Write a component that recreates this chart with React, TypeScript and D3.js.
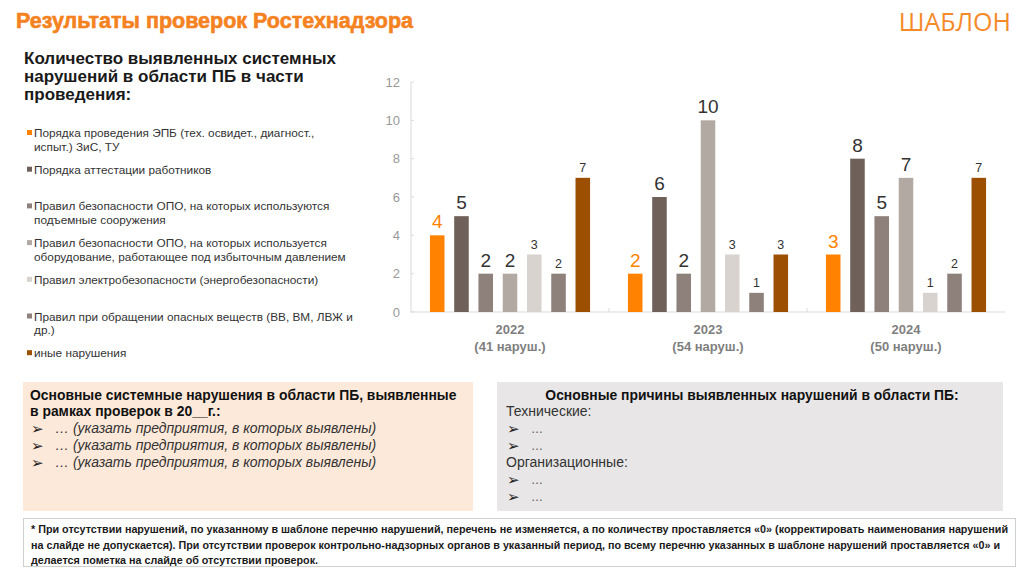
import React from "react";
import * as d3 from "d3";

const years = ["2022", "2023", "2024"];
const yearNotes = ["(41 наруш.)", "(54 наруш.)", "(50 наруш.)"];
const seriesNames = [
  ["Порядка проведения ЭПБ (тех. освидет., диагност.,", "испыт.) ЗиС, ТУ"],
  ["Порядка аттестации работников"],
  ["Правил безопасности ОПО, на которых используются", "подъемные сооружения"],
  ["Правил безопасности ОПО, на которых используется", "оборудование, работающее под избыточным давлением"],
  ["Правил электробезопасности (энергобезопасности)"],
  ["Правил при обращении опасных веществ (ВВ, ВМ, ЛВЖ и", "др.)"],
  ["иные нарушения"],
];
const values2022 = [4, 5, 2, 2, 3, 2, 7];
const values2023 = [2, 6, 2, 10, 3, 1, 3];
const values2024 = [3, 8, 5, 7, 1, 2, 7];
const valuesByYear = [values2022, values2023, values2024];
const yTicks = [0, 2, 4, 6, 8, 10, 12];

const seriesColors = ["#FF8200", "#6F6159", "#8E817B", "#B3A9A3", "#D8D3CE", "#8E817B", "#9C4F00"];

const leftTitle = ["Основные системные нарушения в области ПБ, выявленные", "в рамках проверок в 20__г.:"];
const leftBullets = [
  "… (указать предприятия, в которых выявлены)",
  "… (указать предприятия, в которых выявлены)",
  "… (указать предприятия, в которых выявлены)",
];
const rightTitle = "Основные причины выявленных нарушений в области ПБ:";
const footerLines = [
  "* При отсутствии нарушений, по указанному в шаблоне перечню нарушений, перечень не изменяется, а по количеству проставляется «0» (корректировать наименования нарушений",
  "на слайде не допускается). При отсутствии проверок контрольно-надзорных органов в указанный период, по всему перечню указанных в шаблоне нарушений проставляется «0» и",
  "делается пометка на слайде об отсутствии проверок.",
];

const FONT = "'Liberation Sans', Arial, sans-serif";

export default function App() {
  const W = 1024, H = 574;
  const plotLeft = 411, plotRight = 1005, plotTop = 82, plotBottom = 312;

  const x0 = d3.scaleBand<string>().domain(years).range([plotLeft, plotRight]).padding(0);
  const x1 = d3
    .scaleBand<number>()
    .domain(d3.range(seriesNames.length))
    .range([0, x0.bandwidth()])
    .paddingInner(0.4)
    .paddingOuter(0.78);
  const y = d3.scaleLinear().domain([0, 12]).range([plotBottom, plotTop]);

  const axisColor = "#D9D9D9";

  return (
    <svg
      width={W}
      height={H}
      style={{ position: "absolute", left: 0, top: 0, background: "#fff" }}
      fontFamily={FONT}
    >
      {/* Header */}
      <text x={16} y={27.5} fontSize={21.5} fontWeight="bold" fill="#F58220" stroke="#F58220" strokeWidth={0.6}>
        Результаты проверок Ростехнадзора
      </text>
      <text x={1011} y={31} fontSize={25} textAnchor="end" fill="#F58A2A" fontFamily="'Open Sans', 'Liberation Sans', sans-serif">
        ШАБЛОН
      </text>

      {/* Subtitle */}
      {["Количество выявленных системных", "нарушений в области ПБ в части", "проведения:"].map((t, i) => (
        <text key={i} x={24} y={64 + i * 18} fontSize={17} fontWeight="bold" fill="#1a1a1a">
          {t}
        </text>
      ))}

      {/* Legend */}
      {seriesNames.map((lines, i) => {
        const cy = 133 + i * 36.7;
        return (
          <g key={i}>
            <rect x={27} y={cy - 3} width={5} height={5} fill={seriesColors[i]} />
            {lines.map((l, j) => (
              <text key={j} x={34} y={cy + 4 + j * 13.5} fontSize={11.8} fill="#333">
                {l}
              </text>
            ))}
          </g>
        );
      })}

      {/* Y axis */}
      <line x1={plotLeft} x2={plotLeft} y1={plotTop} y2={plotBottom} stroke={axisColor} />
      {yTicks.map((t) => (
        <g key={t}>
          <line x1={plotLeft} x2={plotLeft + 3} y1={y(t)} y2={y(t)} stroke={axisColor} />
          <text x={400} y={y(t) + 4.5} fontSize={13} textAnchor="end" fill="#999">
            {t}
          </text>
        </g>
      ))}
      {/* X axis */}
      <line x1={plotLeft} x2={plotRight} y1={plotBottom} y2={plotBottom} stroke={axisColor} />
      {years.slice(1).map((yr) => (
        <line key={yr} x1={x0(yr)!} x2={x0(yr)!} y1={plotBottom} y2={plotBottom - 4} stroke={axisColor} />
      ))}

      {/* Bars */}
      {years.map((yr, gi) => (
        <g key={yr}>
          {valuesByYear[gi].map((v, si) => {
            const bx = x0(yr)! + x1(si)!;
            const big = si < 4;
            return (
              <g key={si}>
                <rect x={bx} y={y(v)} width={x1.bandwidth()} height={plotBottom - y(v)} fill={seriesColors[si]} />
                <text
                  x={bx + x1.bandwidth() / 2}
                  y={y(v) - (big ? 7 : 6)}
                  fontSize={big ? 19 : 12.5}
                  textAnchor="middle"
                  fill={si === 0 ? "#FF8200" : "#333"}
                >
                  {v}
                </text>
              </g>
            );
          })}
          <text x={x0(yr)! + x0.bandwidth() / 2} y={334} fontSize={13} fontWeight="bold" textAnchor="middle" fill="#7F7F7F">
            {yr}
          </text>
          <text x={x0(yr)! + x0.bandwidth() / 2} y={351} fontSize={13} fontWeight="bold" textAnchor="middle" fill="#7F7F7F">
            {yearNotes[gi]}
          </text>
        </g>
      ))}

      {/* Left box */}
      <rect x={23} y={382} width={450} height={129} fill="#FDE9D9" />
      {leftTitle.map((t, i) => (
        <text key={i} x={30} y={400 + i * 16} fontSize={13.9} fontWeight="bold" fill="#111">
          {t}
        </text>
      ))}
      {leftBullets.map((t, i) => (
        <g key={i}>
          <text x={31} y={434 + i * 17} fontSize={15} fill="#222">➢</text>
          <text x={55} y={433 + i * 17} fontSize={14} fontStyle="italic" fill="#333">
            {t}
          </text>
        </g>
      ))}

      {/* Right box */}
      <rect x={497} y={382} width={506} height={129} fill="#E8E6E6" />
      <text x={752} y={400} fontSize={13.9} fontWeight="bold" textAnchor="middle" fill="#111">
        {rightTitle}
      </text>
      <text x={506} y={416} fontSize={14} fill="#333">Технические:</text>
      {[0, 1].map((i) => (
        <g key={"t" + i}>
          <text x={507} y={434 + i * 17} fontSize={15} fill="#222">➢</text>
          <text x={531} y={433 + i * 17} fontSize={12} fill="#555">…</text>
        </g>
      ))}
      <text x={506} y={467} fontSize={14} fill="#333">Организационные:</text>
      {[0, 1].map((i) => (
        <g key={"o" + i}>
          <text x={507} y={485 + i * 17} fontSize={15} fill="#222">➢</text>
          <text x={531} y={484 + i * 17} fontSize={12} fill="#555">…</text>
        </g>
      ))}

      {/* Footer */}
      <rect x={23.5} y={518.5} width={992} height={48} fill="#fff" stroke="#D0D0D0" />
      {footerLines.map((t, i) => (
        <text
          key={i}
          x={31}
          y={533 + i * 15.5}
          fontSize={10.5}
          fontWeight="bold"
          fill="#1a1a1a"
          textLength={[977, 969, 287][i]}
          lengthAdjust="spacingAndGlyphs"
          fontFamily="'Liberation Sans Narrow', 'Arial Narrow', 'Liberation Sans', sans-serif"
        >
          {t}
        </text>
      ))}
    </svg>
  );
}
